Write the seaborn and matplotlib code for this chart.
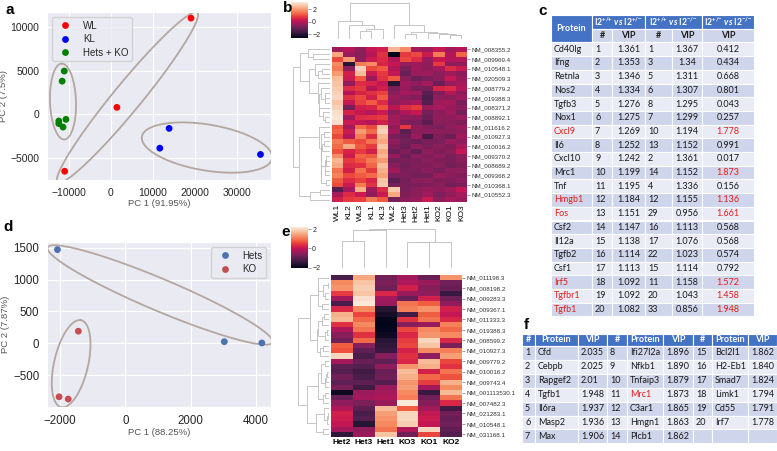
import numpy as np
import pandas as pd
import matplotlib.pyplot as plt
from matplotlib.patches import Rectangle
import seaborn as sns

# ---------------- panel a : PCA, all samples
a_group = ['WL'] * 3 + ['KL'] * 3 + ['Hets + KO'] * 6
a_pc1 = [19000, 1400, -11000, 13800, 11600, 35500,
         -11100, -11600, -10700, -12400, -12400, -11400]
a_pc2 = [11000, 800, -6500, -1600, -3860, -4580,
         4950, 3800, -570, -760, -1060, -1450]
a_palette = {'WL': 'red', 'KL': 'blue', 'Hets + KO': 'green'}

# ---------------- panel d : PCA, Hets vs KO
d_group = ['Hets'] * 3 + ['KO'] * 3
d_pc1 = [-2080, 3030, 4180, -1440, -2030, -1750]
d_pc2 = [1470, 25, 5, 190, -840, -875]
d_palette = {'Hets': '#4c72b0', 'KO': '#c44e52'}

# ---------------- panel b : z-scored expression
b_cols = ['WL1', 'KL2', 'WL3', 'KL1', 'KL3', 'WL2', 'Het3', 'Het2', 'Het1', 'KO2', 'KO1', 'KO3']
b_rows = ['NM_008355.2', 'NM_009969.4', 'NM_010548.1', 'NM_020509.3', 'NM_008779.2',
          'NM_019388.3', 'NM_008371.2', 'NM_008892.1', 'NM_011616.2', 'NM_010927.3',
          'NM_010016.2', 'NM_009370.2', 'NM_008689.2', 'NM_009368.2', 'NM_010368.1',
          'NM_010552.3']
b_vals = [
    [-0.3, 0.0, -0.5, 0.2, 0.4, 2.4, 1.8, -0.2, -0.3, 0.2, -0.3, 0.0],
    [2.2, -0.4, -0.6, 0.0, 0.7, -2.6, 0.8, 1.0, 0.3, 1.6, 0.0, 1.3],
    [1.0, 2.0, -0.5, 0.3, 0.6, -0.1, 1.0, 0.6, -0.4, 0.2, 0.0, 0.0],
    [1.8, -2.0, 1.6, 1.8, 0.5, 0.2, -0.4, -0.3, -0.5, 0.8, -0.5, -0.5],
    [1.6, -0.6, 2.8, 1.0, 1.2, 0.0, -0.8, -0.3, -0.5, -0.2, 0.6, 0.3],
    [2.0, 0.4, 2.5, 0.3, 0.8, 0.2, -1.0, -0.4, -0.3, -0.6, -0.3, -0.6],
    [2.5, 0.3, 1.2, -0.4, 0.7, 1.2, -0.6, -1.0, -0.8, -0.6, 0.2, -0.4],
    [2.6, -0.5, 0.6, 0.5, 0.2, -2.0, -0.3, -0.5, -0.2, -1.0, -0.4, -0.2],
    [2.7, 0.6, 0.8, 0.0, 0.4, -0.8, -0.4, -0.8, -0.9, 0.5, 0.6, 0.0],
    [2.8, 0.0, 0.5, 0.7, 0.9, -0.6, -0.2, -0.3, -1.2, -0.7, 0.0, -0.5],
    [2.9, 0.7, 1.0, 0.4, 1.2, -0.4, -0.6, -0.7, -1.4, -0.5, -0.6, -0.3],
    [2.6, 0.2, 0.9, 1.2, 0.6, -0.5, -0.3, -0.2, -1.3, -0.3, -0.2, -0.8],
    [2.8, -0.9, 0.4, 0.5, 1.1, 0.1, 0.6, 0.8, -0.4, -0.2, -0.4, -0.5],
    [3.0, 0.5, 0.2, 0.0, 0.3, -0.6, -0.1, 0.2, -0.9, -0.6, -0.3, -0.9],
    [3.1, -0.3, 0.6, 0.7, 0.8, -0.3, -0.5, -0.6, -1.0, -0.5, -0.5, -0.4],
    [3.0, 0.3, 0.2, 0.0, 0.4, -0.2, -0.7, -0.8, -1.2, -0.6, -0.6, -0.7],
    [1.2, -0.2, 1.4, 1.0, 2.6, -0.5, 0.8, -0.5, -0.7, -0.8, -0.5, -0.4],
    [1.3, 0.3, 2.0, 1.4, 2.8, -0.3, -1.2, -0.6, -0.6, -0.6, -0.6, -0.5],
    [1.0, 0.0, 1.6, 0.6, 2.4, -0.8, -1.0, -0.4, -1.5, -0.7, -1.0, -0.3],
    [1.6, 1.2, 1.0, 1.5, 2.2, -0.5, -0.9, -1.0, -0.8, -0.8, -0.4, -0.5],
    [1.4, 2.2, 1.2, 0.8, 2.6, -0.7, -1.0, -0.5, -0.8, -0.6, -0.7, -0.2],
    [1.1, 0.5, 0.8, 0.4, 2.2, -1.0, -0.7, -1.1, -0.5, -0.7, -0.6, 0.2],
    [1.8, 0.3, 1.3, 1.2, 2.4, -0.4, -1.0, -0.6, -0.7, -0.5, -0.8, -0.6],
    [2.4, 0.8, 1.1, 1.6, 2.0, -0.9, -0.8, -0.8, -0.6, -0.7, -0.8, -0.6],
    [2.2, 0.6, 0.7, 1.3, 2.5, -0.6, -0.9, -0.7, -0.7, -0.6, -0.9, -0.7],
    [1.5, 0.4, 1.5, 0.8, 2.3, -0.3, -0.8, -0.8, -0.6, -0.8, -0.5, -0.5],
    [1.7, 1.0, 1.2, 1.4, 2.1, -0.8, -0.7, -0.9, -0.9, -0.4, -0.6, -0.7],
    [1.2, 0.6, 0.9, 0.5, 2.6, -1.2, -0.9, -0.6, -0.5, -0.7, -0.7, -0.6],
    [1.0, 0.3, 1.6, 0.7, 2.7, -0.9, -0.8, -0.8, -0.7, -0.6, -0.9, -0.8],
    [-1.3, -0.2, 2.3, -0.3, 0.6, 2.7, -0.8, -0.6, -0.4, -0.5, -0.3, 0.2],
    [-0.2, 0.6, 0.3, -0.5, 0.3, 2.2, -0.7, -0.6, -0.3, -0.7, -0.5, -0.2],
    [0.4, 0.8, 0.9, 1.6, 1.2, -0.9, -0.6, -0.4, 0.3, -0.6, -0.2, -0.4],
]

# ---------------- panel e : z-scored expression, Hets vs KO
e_cols = ['Het2', 'Het3', 'Het1', 'KO3', 'KO1', 'KO2']
e_rows = ['NM_011198.3', 'NM_008198.2', 'NM_009283.3', 'NM_009367.1', 'NM_011333.3',
          'NM_019388.3', 'NM_008599.2', 'NM_010927.3', 'NM_009779.2', 'NM_010016.2',
          'NM_009743.4', 'NM_001113530.1', 'NM_007482.3', 'NM_021283.1', 'NM_010548.1',
          'NM_031168.1']
e_vals = [
    [-1.2, 1.5, -0.8, -0.3, -0.9, 1.3],
    [1.2, 1.8, -0.7, -0.2, -0.4, -0.8],
    [1.3, 1.9, -0.8, 0.2, -0.6, -0.9],
    [0.5, 1.8, 0.3, -0.4, -0.5, -1.4],
    [-0.3, 2.1, -0.3, -0.9, 0.2, -0.8],
    [-1.2, 2.2, -0.4, 1.0, 0.8, -0.5],
    [0.3, 1.2, -1.6, 1.1, 1.3, 0.2],
    [1.6, 0.6, -1.8, -1.3, 0.8, 0.0],
    [1.7, 0.9, -2.0, 0.4, 1.0, 0.3],
    [0.4, 1.2, -2.05, -0.6, -0.4, 1.1],
    [-0.2, 1.0, -2.0, 0.6, 1.2, 0.9],
    [-0.6, 0.4, -1.9, 0.3, 1.3, 1.2],
    [-0.8, 0.9, -1.6, 0.5, 2.0, 0.3],
    [0.8, -0.6, -1.5, 0.6, 1.8, -0.7],
    [0.7, -1.0, -1.4, 0.2, 1.2, 1.1],
    [2.0, -1.2, -0.6, 0.4, -0.5, 1.4],
    [-0.3, -0.9, -1.0, 0.3, 1.7, 0.6],
    [-1.0, -1.1, -0.5, 1.3, 1.6, 0.4],
    [-1.1, -1.3, -0.9, 1.7, 0.2, 1.0],
    [-0.8, -1.2, -0.8, 1.6, 0.9, 0.7],
    [-1.0, -1.0, -1.1, 1.3, 0.5, 1.6],
    [-0.7, -1.3, -0.4, 1.4, -0.3, 1.2],
    [-1.9, -0.4, -0.3, 1.2, -1.4, 1.7],
    [-0.9, -0.3, -0.2, 1.1, -0.8, 1.0],
    [-0.5, -0.7, -0.4, 2.2, -0.6, 0.3],
    [-0.2, -1.0, 1.7, 0.8, -0.3, -1.3],
    [0.2, -1.2, 1.4, 2.0, 0.0, -0.8],
    [0.1, -1.1, 1.3, 2.0, 0.1, -0.9],
    [0.0, -1.6, 1.2, 1.9, 0.0, -0.8],
    [-0.3, -0.5, 1.0, -0.2, 2.0, -1.0],
    [-1.5, -0.4, 1.8, -0.8, 0.6, -1.1],
]

# ---------------- panel c : VIP table
c_protein = ['Cd40lg', 'Ifng', 'Retnla', 'Nos2', 'Tgfb3', 'Nox1', 'Cxcl9', 'Il6', 'Cxcl10', 'Mrc1',
             'Tnf', 'Hmgb1', 'Fos', 'Csf2', 'Il12a', 'Tgfb2', 'Csf1', 'Irf5', 'Tgfbr1', 'Tgfb1']
c_rank1 = ['1', '2', '3', '4', '5', '6', '7', '8', '9', '10',
           '11', '12', '13', '14', '15', '16', '17', '18', '19', '20']
c_vip1 = ['1.361', '1.353', '1.346', '1.334', '1.276', '1.275', '1.269', '1.252', '1.242', '1.199',
          '1.195', '1.184', '1.151', '1.147', '1.138', '1.114', '1.113', '1.092', '1.092', '1.082']
c_rank2 = ['1', '3', '5', '6', '8', '7', '10', '13', '2', '14',
           '4', '12', '29', '16', '17', '22', '15', '11', '20', '33']
c_vip2 = ['1.367', '1.34', '1.311', '1.307', '1.295', '1.299', '1.194', '1.152', '1.361', '1.152',
          '1.336', '1.155', '0.956', '1.113', '1.076', '1.023', '1.114', '1.158', '1.043', '0.856']
c_vip3 = ['0.412', '0.434', '0.668', '0.801', '0.043', '0.257', '1.778', '0.991', '0.017', '1.873',
          '0.156', '1.136', '1.661', '0.568', '0.568', '0.574', '0.792', '1.572', '1.458', '1.948']
c_red_name = ['Cxcl9', 'Hmgb1', 'Fos', 'Irf5', 'Tgfbr1', 'Tgfb1']
c_red_vip3 = c_red_name + ['Mrc1']

# ---------------- panel f : top-20 VIP table
f_rank = [str(i) for i in range(1, 21)]
f_protein = ['Cfd', 'Cebpb', 'Rapgef2', 'Tgfb1', 'Il6ra', 'Masp2', 'Max',
             'Ifi27l2a', 'Nfkb1', 'Tnfaip3', 'Mrc1', 'C3ar1', 'Hmgn1', 'Plcb1',
             'Bcl2l1', 'H2-Eb1', 'Smad7', 'Limk1', 'Cd55', 'Irf7']
f_vip = ['2.035', '2.025', '2.01', '1.948', '1.937', '1.936', '1.906',
         '1.896', '1.890', '1.879', '1.873', '1.865', '1.863', '1.862',
         '1.862', '1.840', '1.824', '1.794', '1.791', '1.778']
f_red = ['Mrc1']

W, H = 777, 451
BLUE, BAND1, BAND2 = '#4472c4', '#cfd5ea', '#e9ebf5'
RED = '#e0201b'
ELL = '#b3a7a0'

sns.set_style('darkgrid')
plt.rcParams['font.family'] = ['Liberation Sans', 'DejaVu Sans']
plt.rcParams['mathtext.fontset'] = 'custom'
plt.rcParams['mathtext.rm'] = 'Lato:bold'
plt.rcParams['mathtext.it'] = 'Lato:bold:italic'
plt.rcParams['mathtext.bf'] = 'Lato:bold'

fig = plt.figure(figsize=(W / 100, H / 100), dpi=100)


def box(x0, y0, x1, y1):
    # pixel box (top-left origin) -> figure fraction
    return [x0 / W, 1 - y1 / H, (x1 - x0) / W, (y1 - y0) / H]


def draw_ellipse(ax, cx, cy, a, b, ang):
    # a, b in pixels, angle in degrees on screen
    t = np.linspace(0, 2 * np.pi, 200)
    th = np.deg2rad(ang)
    ex = a * np.cos(t) * np.cos(th) - b * np.sin(t) * np.sin(th)
    ey = a * np.cos(t) * np.sin(th) + b * np.sin(t) * np.cos(th)
    c = ax.transData.transform((cx, cy))
    pts = ax.transData.inverted().transform(np.column_stack([c[0] + ex, c[1] + ey]))
    ax.plot(pts[:, 0], pts[:, 1], color=ELL, lw=1.3, zorder=2)


def pca_panel(rect, pc1, pc2, group, palette, xlim, ylim, xticks, yticks,
              xlabel, ylabel, tick_fs, loc, ellipses):
    ax = fig.add_axes(box(*rect))
    df = pd.DataFrame({'pc1': pc1, 'pc2': pc2, 'group': group})
    sns.scatterplot(data=df, x='pc1', y='pc2', hue='group', palette=palette,
                    s=24, linewidth=0, ax=ax, zorder=3)
    ax.set_xlim(xlim)
    ax.set_ylim(ylim)
    ax.set_xticks(xticks)
    ax.set_yticks(yticks)
    ax.tick_params(labelsize=tick_fs, pad=2, colors='#262626')
    ax.set_xlabel(xlabel, fontsize=6.8, color='#555555', labelpad=1)
    ax.set_ylabel(ylabel, fontsize=6.8, color='#555555', labelpad=2)
    for e in ellipses:
        draw_ellipse(ax, *e)
    sns.move_legend(ax, loc, title=None, fontsize=7, labelspacing=0.35,
                    borderpad=0.4, edgecolor='#cccccc')
    return ax


pca_panel((47, 12, 271, 180), a_pc1, a_pc2, a_group, a_palette,
          (-15200, 38000), (-7500, 11700), [-10000, 0, 10000, 20000, 30000],
          [-5000, 0, 5000, 10000], 'PC 1 (91.95%)', 'PC 2 (7.5%)', 7.5, 'upper left',
          [(3900, 1930, 110, 14, 50.6), (-11400, 1470, 38, 13, 92), (22800, -3790, 66, 23, -9.5)])

pca_panel((47, 242, 271, 407), d_pc1, d_pc2, d_group, d_palette,
          (-2400, 4460), (-1000, 1590), [-2000, 0, 2000, 4000],
          [-500, 0, 500, 1000, 1500], 'PC 1 (88.25%)', 'PC 2 (7.87%)', 8.3, 'upper right',
          [(1062, 759, 122, 16, -22.9), (-1661, -320, 44.6, 17, 77)])


def ordered_tree(mat):
    # agglomerative (Ward-like) merge of neighbours, keeping the displayed order
    nodes = [dict(c=np.asarray(r, float), n=1, pos=i + 0.5, h=0.0) for i, r in enumerate(mat)]
    segs = []
    while len(nodes) > 1:
        dists = []
        for k in range(len(nodes) - 1):
            p, q = nodes[k], nodes[k + 1]
            dists.append(np.sqrt(2 * p['n'] * q['n'] / (p['n'] + q['n'])) * np.linalg.norm(p['c'] - q['c']))
        k = int(np.argmin(dists))
        p, q = nodes[k], nodes[k + 1]
        h = max(dists[k], p['h'], q['h'])
        segs.append((p['pos'], p['h'], q['pos'], q['h'], h))
        nodes[k:k + 2] = [dict(c=(p['c'] * p['n'] + q['c'] * q['n']) / (p['n'] + q['n']),
                               n=p['n'] + q['n'], pos=(p['pos'] + q['pos']) / 2, h=h)]
    return segs


def dendro(rect, mat, side):
    ax = fig.add_axes(box(*rect))
    segs = ordered_tree(mat)
    top = max(s[4] for s in segs)
    for p1, h1, p2, h2, h in segs:
        ps, hs = [p1, p1, p2, p2], [h1, h, h, h2]
        if side == 'top':
            ax.plot(ps, hs, color='#bdbdbd', lw=0.6)
        else:
            ax.plot(hs, ps, color='#bdbdbd', lw=0.6)
    n = len(mat)
    if side == 'top':
        ax.set_xlim(0, n)
        ax.set_ylim(0, top * 1.02)
    else:
        ax.set_ylim(n, 0)
        ax.set_xlim(top * 1.02, 0)
    ax.axis('off')


def cluster_panel(vals, cols, rows, hm_rect, cb_rect, col_rect, row_rect,
                  vmin, vmax, xrot, xweight):
    mat = np.array(vals)
    hm = fig.add_axes(box(*hm_rect))
    cb = fig.add_axes(box(*cb_rect))
    sns.heatmap(pd.DataFrame(mat, columns=cols), ax=hm, cbar_ax=cb, cmap='rocket',
                vmin=vmin, vmax=vmax, xticklabels=cols, yticklabels=False,
                cbar_kws={'ticks': [-2, 0, 2]})
    hm.grid(False)
    hm.set_yticks(np.arange(0, mat.shape[0], 2) + 0.5)
    hm.set_yticklabels(rows, fontsize=4.5, color='#333333', rotation=0)
    hm.yaxis.tick_right()
    hm.tick_params(axis='y', length=2, width=0.4, pad=1, color='#555555')
    hm.tick_params(axis='x', length=0, pad=1.5)
    for t in hm.get_xticklabels():
        t.set_rotation(xrot)
        t.set_fontsize(6)
        t.set_fontweight(xweight)
        t.set_color('black')
    cb.grid(False)
    cb.tick_params(labelsize=5, length=2, width=0.4, pad=1, color='#555555')
    dendro(col_rect, mat.T, 'top')
    dendro(row_rect, mat, 'left')


cluster_panel(b_vals, b_cols, b_rows, (332, 47, 467, 202), (291, 2, 308, 38),
              (332, 2, 467, 39), (292, 47, 330, 202), -2.6, 3.2, 90, 'normal')
cluster_panel(e_vals, e_cols, e_rows, (331, 275, 462, 437), (291, 227, 308, 268),
              (331, 228, 462, 268), (297, 275, 329, 437), -2.05, 2.25, 0, 'bold')

# ---------------- tables (overlay in pixel units)
ov = fig.add_axes([0, 0, 1, 1])
ov.set_xlim(0, W)
ov.set_ylim(H, 0)
ov.axis('off')
ov.patch.set_visible(False)
TF = 'Lato'


def cell(x0, x1, y0, y1, color, text='', align='center', tcolor='#1a1a1a', weight='normal', fs=6.5):
    ov.add_patch(Rectangle((x0, y0), x1 - x0, y1 - y0, facecolor=color,
                           edgecolor='white', lw=0.8))
    if text:
        if align == 'center':
            ov.text((x0 + x1) / 2, (y0 + y1) / 2, text, ha='center', va='center',
                    color=tcolor, fontweight=weight, fontsize=fs, family=TF)
        else:
            ov.text(x0 + 3, (y0 + y1) / 2, text, ha='left', va='center',
                    color=tcolor, fontweight=weight, fontsize=fs, family=TF)


# table c
cx = [551, 592, 612, 645, 672, 702, 754]
r0, rh = 15.0, 13.7
cell(cx[0], cx[1], r0, r0 + 2 * rh, BLUE, 'Protein', tcolor='white', weight='bold')
heads = [r'I2$^{{+}/{+}}$ $vs$ I2$^{{+}/{-}}$', r'I2$^{{+}/{+}}$ $vs$ I2$^{{-}/{-}}$',
         r'I2$^{{+}/{-}}$ $vs$ I2$^{{-}/{-}}$']
for (i0, i1), txt in zip([(1, 3), (3, 5), (5, 6)], heads):
    cell(cx[i0], cx[i1], r0, r0 + rh, BLUE, txt, tcolor='white', weight='bold', fs=6.2)
for j, txt in enumerate(['#', 'VIP', '#', 'VIP', 'VIP']):
    cell(cx[j + 1], cx[j + 2], r0 + rh, r0 + 2 * rh, BAND1, txt, weight='bold')
c_table = list(zip(c_protein, c_rank1, c_vip1, c_rank2, c_vip2, c_vip3))
for i, row in enumerate(c_table):
    y0 = r0 + (i + 2) * rh
    bg = BAND2 if i % 2 == 0 else BAND1
    aligns = ['left', 'left', 'center', 'left', 'center', 'center']
    for j, txt in enumerate(row):
        col = '#1a1a1a'
        if (j == 0 and row[0] in c_red_name) or (j == 5 and row[0] in c_red_vip3):
            col = RED
        cell(cx[j], cx[j + 1], y0, y0 + rh, bg, txt, align=aligns[j], tcolor=col)

# table f
fx = [522, 535, 578, 607, 627, 663, 693, 712, 748, 777]
fy0, fh0, fh = 334.0, 12.0, 13.9
for g in range(3):
    for j, txt in enumerate(['#', 'Protein', 'VIP']):
        cell(fx[3 * g + j], fx[3 * g + j + 1], fy0, fy0 + fh0, BLUE, txt,
             tcolor='white', weight='bold')
for i in range(7):
    y0 = fy0 + fh0 + i * fh
    bg = BAND1 if i % 2 == 0 else BAND2
    for g in range(3):
        k = g * 7 + i
        vals = (f_rank[k], f_protein[k], f_vip[k]) if k < len(f_rank) else ('', '', '')
        for j, txt in enumerate(vals):
            col = RED if (j == 1 and txt in f_red) else '#1a1a1a'
            cell(fx[3 * g + j], fx[3 * g + j + 1], y0, y0 + fh, bg, txt, align='left', tcolor=col)

# panel letters
for x, y, s in [(5, 10, 'a'), (283, 8, 'b'), (538, 11, 'c'), (3, 227, 'd'), (281, 232, 'e'), (524, 325, 'f')]:
    ov.text(x, y, s, fontsize=11, fontweight='bold', ha='left', va='center', color='black')

fig.savefig('out.png', dpi=100)
